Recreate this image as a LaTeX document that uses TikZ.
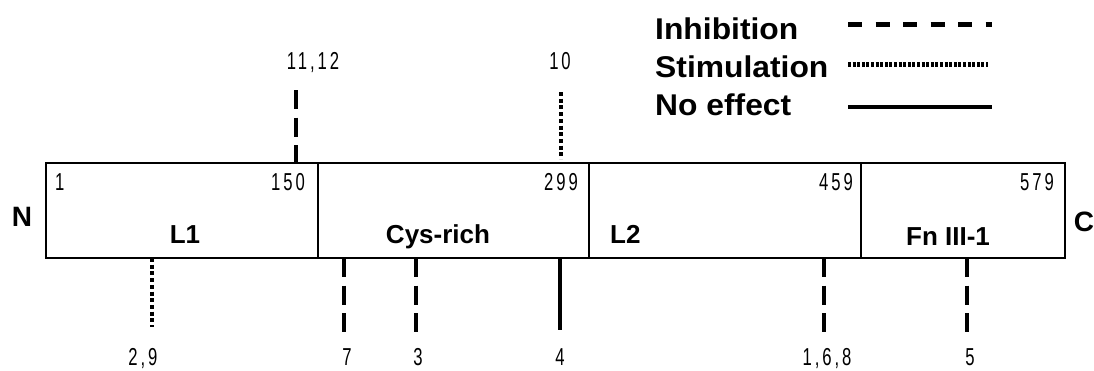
\documentclass[tikz,border=0pt]{standalone}
\usepackage{fontspec}
\setmainfont{Liberation Sans}
\newfontfamily\numfont[FakeStretch=0.68,LetterSpace=12]{Liberation Sans}
\newfontfamily\legfont[FakeStretch=1.06]{Liberation Sans}
\begin{document}
\begin{tikzpicture}[x=1pt,y=-1pt,
  domainbox/.style={draw, line width=2.5pt, minimum height=95pt, inner sep=0pt, outer sep=0pt},
  dlabel/.style={font=\fontsize{26}{26}\selectfont\bfseries, anchor=base, inner sep=0pt},
  endlabel/.style={font=\fontsize{28}{28}\selectfont\bfseries, inner sep=0pt},
  resnum/.style={font=\numfont\fontsize{24.5}{24.5}\selectfont, inner sep=0pt},
  sitelabel/.style={font=\numfont\fontsize{24.5}{24.5}\selectfont, anchor=base, inner sep=0pt},
  legtext/.style={font=\legfont\fontsize{30}{30}\selectfont\bfseries, anchor=base west, inner sep=0pt},
  inhib/.style={line width=4pt, dash pattern=on 19pt off 8.5pt},
  stim/.style={line width=4pt, dash pattern=on 4pt off 2.7pt},
  noeff/.style={line width=4pt},
  leginhib/.style={line width=5pt, dash pattern=on 14pt off 13.5pt},
  legstim/.style={line width=5pt, dash pattern=on 3pt off 1.6pt},
  legnoeff/.style={line width=4.5pt}]
\useasboundingbox (0,0) rectangle (1094,370);

% receptor domains
\node[domainbox, minimum width=272pt] (L1) at (182,210.5) {};
\node[domainbox, minimum width=271pt] (CR) at (453.5,210.5) {};
\node[domainbox, minimum width=272pt] (L2) at (725,210.5) {};
\node[domainbox, minimum width=204pt] (FN) at (963,210.5) {};

% domain names
\node[dlabel] (tL1) at (185,243) {L1};
\node[dlabel] (tCR) at (438,243) {Cys-rich};
\node[dlabel, anchor=base west] (tL2) at (610,243) {L2};
\node[dlabel] (tFN) at (948,245) {Fn III-1};

% chain termini
\node[endlabel] (N) at (22,217) {N};
\node[endlabel] (C) at (1084,222) {C};

% residue numbers
\node[resnum, anchor=west] (r1) at (55,182) {1};
\node[resnum, anchor=east] (r150) at (305,182) {150};
\node[resnum, anchor=east] (r299) at (578,182) {299};
\node[resnum, anchor=east] (r459) at (853,182) {459};
\node[resnum, anchor=east] (r579) at (1054,182) {579};

% epitope sites
\coordinate (s11) at (296,90);
\coordinate (s10) at (561,92);
\coordinate (s29) at (152,327);
\coordinate (s7)  at (344,332);
\coordinate (s3)  at (416,332);
\coordinate (s4)  at (560,330);
\coordinate (s168) at (824,332);
\coordinate (s5)  at (967,332);

\draw[inhib] (s11) -- (s11 |- L1.north);
\draw[stim, shorten >=4pt] (s10) -- (s10 |- CR.north);
\draw[stim] (s29 |- L1.south) -- (s29);
\draw[inhib] (s7 |- CR.south) -- (s7);
\draw[inhib] (s3 |- CR.south) -- (s3);
\draw[noeff] (s4 |- CR.south) -- (s4);
\draw[inhib] (s168 |- L2.south) -- (s168);
\draw[inhib] (s5 |- FN.south) -- (s5);

% antibody labels
\node[sitelabel] (a1112) at (313,69) {11,12};
\node[sitelabel] (a10) at (560,69) {10};
\node[sitelabel] (a29) at (143,365) {2,9};
\node[sitelabel] (a7) at (347,365) {7};
\node[sitelabel] (a3) at (418,365) {3};
\node[sitelabel] (a4) at (560,365) {4};
\node[sitelabel] (a168) at (827,365) {1,6,8};
\node[sitelabel] (a5) at (970,365) {5};

% legend
\node[legtext] (gI) at (655,39) {Inhibition};
\node[legtext] (gS) at (655,77) {Stimulation};
\node[legtext] (gN) at (655,115) {No effect};
\coordinate (gIa) at (848,24);  \coordinate (gIb) at (992,24);
\coordinate (gSa) at (848,64);  \coordinate (gSb) at (988,64);
\coordinate (gNa) at (848,107); \coordinate (gNb) at (992,107);
\draw[leginhib] (gIa) -- (gIb);
\draw[legstim] (gSa) -- (gSb);
\draw[legnoeff] (gNa) -- (gNb);
\end{tikzpicture}
\end{document}
